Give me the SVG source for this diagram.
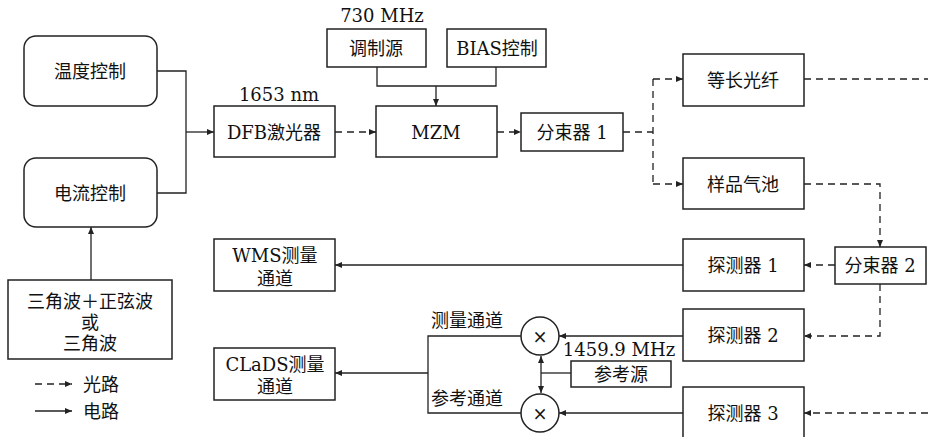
<svg xmlns="http://www.w3.org/2000/svg" width="928" height="437" viewBox="0 0 928 437">
<style>
.box{fill:#fff;stroke:#222;stroke-width:1.5}
.t{font-family:"DejaVu Serif","Noto Sans CJK SC",serif;font-size:18px;fill:#111;text-anchor:middle;dominant-baseline:central}
.c{fill:none;stroke:#222;stroke-width:1.3}
.d{fill:none;stroke:#222;stroke-width:1.3;stroke-dasharray:7 5}
</style>
<defs>
<marker id="ah" markerWidth="8" markerHeight="6" refX="7" refY="3" orient="auto-start-reverse" markerUnits="userSpaceOnUse">
<path d="M0,0 L7,3 L0,6 z" fill="#222"/>
</marker>
</defs>
<rect width="928" height="437" fill="#fff"/>
<g id="connectors">
<path class="c" d="M157,71 H186 V193 H157"/>
<path class="c" d="M186,132 H214" marker-end="url(#ah)"/>
<path class="c" d="M377,67 V86 H496 V67"/>
<path class="c" d="M436,86 V106" marker-end="url(#ah)"/>
<path class="d" d="M335,132 H376" marker-end="url(#ah)"/>
<path class="d" d="M497,132 H521" marker-end="url(#ah)"/>
<path class="d" d="M623,132 H653"/>
<path class="d" d="M653,79 V184"/>
<path class="d" d="M653,79 H683" marker-end="url(#ah)"/>
<path class="d" d="M653,184 H683" marker-end="url(#ah)"/>
<path class="d" d="M804,79 H928"/>
<path class="d" d="M804,184 H880 V247" marker-end="url(#ah)"/>
<path class="d" d="M835,265 H804" marker-end="url(#ah)"/>
<path class="d" d="M880,284 V336 H804" marker-end="url(#ah)"/>
<path class="d" d="M928,413 H804" marker-end="url(#ah)"/>
<path class="c" d="M683,265 H335" marker-end="url(#ah)"/>
<path class="c" d="M683,336 H559" marker-end="url(#ah)"/>
<path class="c" d="M683,413 H559" marker-end="url(#ah)"/>
<path class="c" d="M521,336 H428 V413 H521"/>
<path class="c" d="M428,373 H335" marker-end="url(#ah)"/>
<path class="c" d="M571,373 H541"/>
<path class="c" d="M541,356 V393" marker-start="url(#ah)" marker-end="url(#ah)"/>
<path class="c" d="M91,280 V227" marker-end="url(#ah)"/>
</g>
<g id="n_temp"><rect class="box" x="24" y="36" width="133" height="70" rx="12"/><text class="t" x="90" y="71">温度控制</text></g>
<g id="n_current"><rect class="box" x="24" y="158" width="133" height="69" rx="12"/><text class="t" x="90" y="193">电流控制</text></g>
<g id="n_wave"><rect class="box" x="8" y="280" width="164" height="79"/><text class="t" x="90" y="301">三角波＋正弦波</text><text class="t" x="90" y="322">或</text><text class="t" x="90" y="343">三角波</text></g>
<g id="n_dfb"><rect class="box" x="214" y="106" width="121" height="51"/><text class="t" x="274" y="132">DFB激光器</text><text class="t" x="279" y="94">1653 nm</text></g>
<g id="n_mod"><rect class="box" x="327" y="29" width="99" height="38"/><text class="t" x="376" y="48">调制源</text><text class="t" x="382" y="15">730 MHz</text></g>
<g id="n_bias"><rect class="box" x="447" y="29" width="99" height="38"/><text class="t" x="497" y="48">BIAS控制</text></g>
<g id="n_mzm"><rect class="box" x="376" y="106" width="121" height="51"/><text class="t" x="436" y="132">MZM</text></g>
<g id="n_bs1"><rect class="box" x="521" y="113" width="102" height="38"/><text class="t" x="572" y="132">分束器 1</text></g>
<g id="n_fiber"><rect class="box" x="683" y="54" width="121" height="52"/><text class="t" x="743" y="80">等长光纤</text></g>
<g id="n_cell"><rect class="box" x="683" y="158" width="121" height="51"/><text class="t" x="743" y="184">样品气池</text></g>
<g id="n_bs2"><rect class="box" x="835" y="247" width="91" height="37"/><text class="t" x="880" y="265">分束器 2</text></g>
<g id="n_det1"><rect class="box" x="683" y="239" width="121" height="52"/><text class="t" x="743" y="265">探测器 1</text></g>
<g id="n_det2"><rect class="box" x="683" y="309" width="121" height="52"/><text class="t" x="743" y="335">探测器 2</text></g>
<g id="n_det3"><rect class="box" x="683" y="387" width="121" height="52"/><text class="t" x="743" y="413">探测器 3</text></g>
<g id="n_wms"><rect class="box" x="214" y="239" width="121" height="52"/><text class="t" x="275" y="255">WMS测量</text><text class="t" x="275" y="278">通道</text></g>
<g id="n_clads"><rect class="box" x="214" y="348" width="121" height="52"/><text class="t" x="275" y="364">CLaDS测量</text><text class="t" x="275" y="386">通道</text></g>
<g id="n_mix1"><circle class="box" cx="540" cy="336" r="19"/><text class="t" x="540" y="336" style="font-size:18px">×</text></g>
<g id="n_mix2"><circle class="box" cx="540" cy="413" r="19"/><text class="t" x="540" y="413" style="font-size:18px">×</text></g>
<g id="n_ref"><rect class="box" x="571" y="361" width="100" height="26"/><text class="t" x="621" y="374">参考源</text><text class="t" x="619" y="349">1459.9 MHz</text></g>
<g id="labels"><text class="t" x="467" y="320">测量通道</text><text class="t" x="467" y="398">参考通道</text></g>
<g id="legend">
<path class="d" d="M35,384 H72" marker-end="url(#ah)"/>
<text class="t" x="101" y="384">光路</text>
<path class="c" d="M35,411 H72" marker-end="url(#ah)"/>
<text class="t" x="101" y="411">电路</text>
</g>
</svg>
